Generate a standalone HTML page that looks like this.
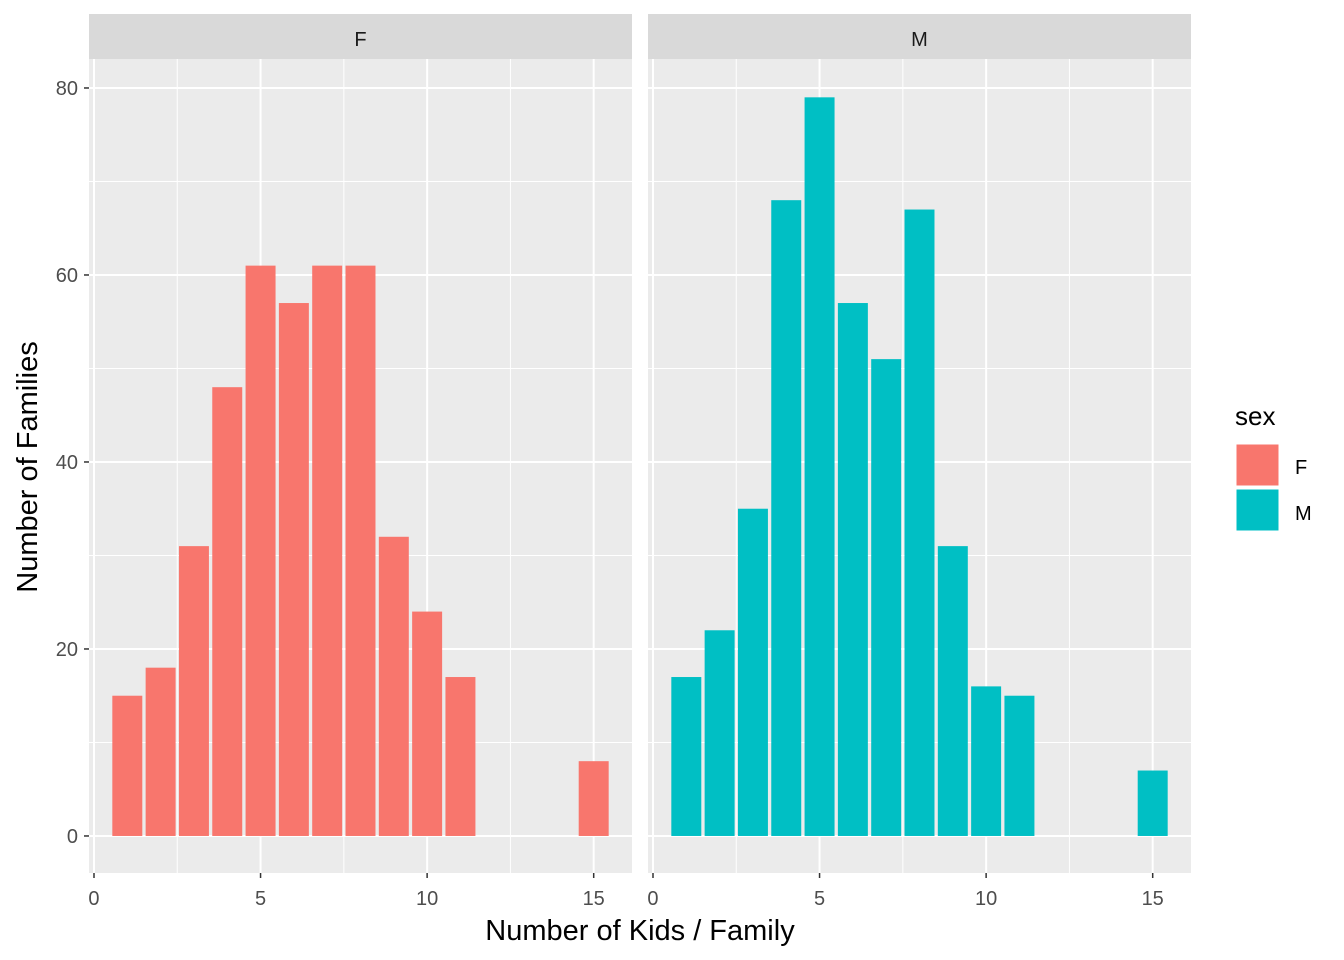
<!DOCTYPE html>
<html><head><meta charset="utf-8"><style>
body{margin:0;background:#fff}
svg{display:block;font-family:"Liberation Sans",Arial,sans-serif}
</style></head><body>
<svg id="chart" width="1344" height="960">
<g id="panels"></g>
<text x="640" y="940" text-anchor="middle" font-size="29" fill="#000">Number of Kids / Family</text>
<text transform="translate(37,467) rotate(-90)" text-anchor="middle" font-size="29" fill="#000">Number of Families</text>
<g>
<text x="1235" y="425" font-size="26" fill="#000">sex</text>
<rect x="1236" y="444" width="43" height="42" fill="#F8766D" stroke="#fff"/>
<text x="1295" y="474" font-size="20" fill="#000">F</text>
<rect x="1236" y="489" width="43" height="42" fill="#00BFC4" stroke="#fff"/>
<text x="1295" y="520" font-size="20" fill="#000">M</text>
</g>
</svg>
<script>
const categories = [1,2,3,4,5,6,7,8,9,10,11,15];
const femaleValues = [15,18,31,48,61,57,61,61,32,24,17,8];
const maleValues = [17,22,35,68,79,57,51,67,31,16,15,7];
const xTicks = [0,5,10,15];
const yTicks = [0,20,40,60,80];
const panels = [
  {label:'F', left:89, values:femaleValues, color:'#F8766D', name:'f'},
  {label:'M', left:648, values:maleValues, color:'#00BFC4', name:'m'}
];
const NS='http://www.w3.org/2000/svg';
const root=document.getElementById('panels');
const pw=543, plotTop=59, plotBottom=873;
const xmin=-0.15, xmax=16.15, ymin=-3.96, ymax=83.1;
function mk(tag,attrs,parent){const e=document.createElementNS(NS,tag);for(const k in attrs)e.setAttribute(k,attrs[k]);parent.appendChild(e);return e;}
const yS=v=>plotBottom-(v-ymin)/(ymax-ymin)*(plotBottom-plotTop);
panels.forEach(p=>{
  const xS=v=>p.left+(v-xmin)/(xmax-xmin)*pw;
  const g=mk('g',{},root);
  
  
  const bg=mk('rect',{x:p.left,y:plotTop,width:pw,height:plotBottom-plotTop,fill:'#EBEBEB'},g);
  
  
  const st=mk('rect',{x:p.left,y:14,width:pw,height:45,fill:'#D9D9D9'},g);
  
  
  const stt=mk('text',{x:p.left+pw/2,y:46,'text-anchor':'middle','font-size':20,fill:'#1A1A1A'},g);
  stt.textContent=p.label;
  
  
  for(let i=0;i<yTicks.length;i++){
    const v=yTicks[i];
    if(i<yTicks.length-1){const m=(v+yTicks[i+1])/2;mk('line',{x1:p.left,x2:p.left+pw,y1:yS(m),y2:yS(m),stroke:'#fff','stroke-width':1},g);}
    mk('line',{x1:p.left,x2:p.left+pw,y1:yS(v),y2:yS(v),stroke:'#fff','stroke-width':2},g);
  }
  for(let i=0;i<xTicks.length;i++){
    const v=xTicks[i];
    const m=v+2.5; if(xS(m)<p.left+pw) mk('line',{x1:xS(m),x2:xS(m),y1:plotTop,y2:plotBottom,stroke:'#fff','stroke-width':1},g);
    mk('line',{x1:xS(v),x2:xS(v),y1:plotTop,y2:plotBottom,stroke:'#fff','stroke-width':2},g);
    mk('line',{x1:xS(v),x2:xS(v),y1:plotBottom,y2:plotBottom+5,stroke:'#333','stroke-width':1.5},g);
    const t=mk('text',{x:xS(v),y:905,'text-anchor':'middle','font-size':20,fill:'#4D4D4D'},g);
    t.textContent=v;
    
    
  }
  categories.forEach((c,i)=>{
    const v=p.values[i];
    const r=mk('rect',{x:xS(c-0.45),y:yS(v),width:xS(c+0.45)-xS(c-0.45),height:yS(0)-yS(v),fill:p.color},g);
    
    
  });
});
yTicks.forEach(v=>{
  mk('line',{x1:84,x2:89,y1:yS(v),y2:yS(v),stroke:'#333','stroke-width':1.5},root);
  const t=mk('text',{x:78,y:yS(v)+7,'text-anchor':'end','font-size':20,fill:'#4D4D4D'},root);
  t.textContent=v;
  
  
});
</script>
</body></html>
